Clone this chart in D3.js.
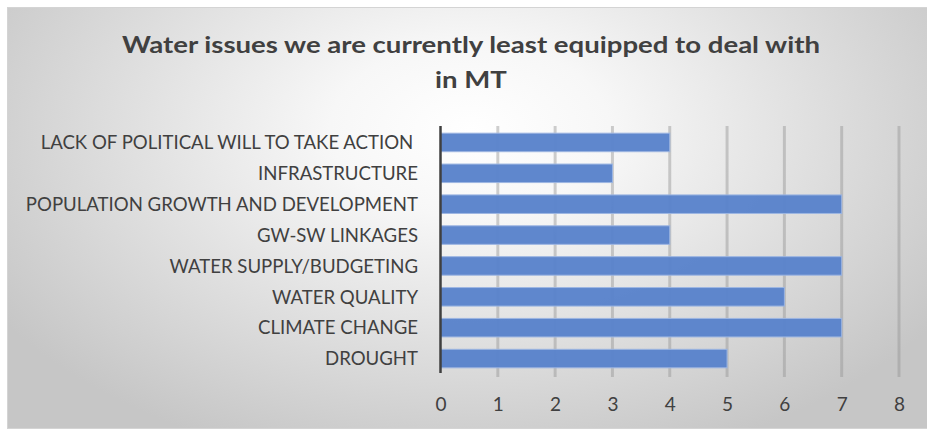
<!DOCTYPE html>
<html><head><meta charset="utf-8">
<script src="https://cdn.jsdelivr.net/npm/d3@7"></script>
<style>html,body{margin:0;padding:0;background:#fff;}svg{display:block;}</style>
</head><body>
<svg id="chart" width="927" height="431"></svg>
<script>
const categories = ["LACK OF POLITICAL WILL TO TAKE ACTION ", "INFRASTRUCTURE", "POPULATION GROWTH AND DEVELOPMENT", "GW-SW LINKAGES", "WATER SUPPLY/BUDGETING", "WATER QUALITY", "CLIMATE CHANGE", "DROUGHT"];
const values = [4, 3, 7, 4, 7, 6, 7, 5];
const tickValues = [0, 1, 2, 3, 4, 5, 6, 7, 8];
const titleLines = ["Water issues we are currently least equipped to deal with", "in MT"];

const svg = d3.select("#chart");
const defs = svg.append("defs");
const rg = defs.append("radialGradient").attr("id","bg").attr("gradientUnits","userSpaceOnUse")
  .attr("cx",470).attr("cy",130).attr("r",560).attr("gradientTransform","translate(470,130) scale(1,0.62) translate(-470,-130)");
rg.append("stop").attr("offset","0%").attr("stop-color","#ffffff");
rg.append("stop").attr("offset","25%").attr("stop-color","#f7f7f7");
rg.append("stop").attr("offset","100%").attr("stop-color","#c6c6c6");
const blur = defs.append("filter").attr("id","soft").attr("filterUnits","userSpaceOnUse")
  .attr("x",0).attr("y",0).attr("width",927).attr("height",431);
blur.append("feGaussianBlur").attr("stdDeviation","0.7");

svg.append("rect").attr("x",7.5).attr("y",7.5).attr("width",925).attr("height",421)
  .attr("fill","url(#bg)").attr("stroke","#d4d4d4").attr("stroke-width",1);

const x = d3.scaleLinear().domain([0,8]).range([440.5, 899]);
const y = d3.scaleBand().domain(categories).range([127, 374]).paddingInner(0.4).paddingOuter(0.2);

// gridlines
const grid = svg.append("g").attr("filter","url(#soft)");
grid.selectAll("line").data(tickValues.filter(d=>d>0)).join("line")
  .attr("x1",d=>x(d)).attr("x2",d=>x(d)).attr("y1",126).attr("y2",377)
  .attr("stroke","#959595").attr("stroke-opacity",0.45).attr("stroke-width",3);

// bars
svg.append("g").selectAll("rect").data(categories).join("rect")
  .attr("x", x(0)).attr("y", d=>y(d))
  .attr("width", (d,i)=>x(values[i])-x(0)).attr("height", y.bandwidth())
  .attr("fill","#5a83cb").attr("fill-opacity",0.97).attr("stroke","#9db6e2").attr("stroke-width",1);

// axis line
svg.append("line").attr("x1",x(0)).attr("x2",x(0)).attr("y1",126).attr("y2",373)
  .attr("stroke","#3f3f3f").attr("stroke-width",2.5);

const font = "Lato, 'Open Sans', sans-serif";
// category labels via axis
const yAxis = d3.axisLeft(y).tickSize(0).tickPadding(0);
const ya = svg.append("g").attr("transform","translate(418,0)").call(yAxis);
ya.select(".domain").remove();
ya.selectAll("text").attr("font-family",font).attr("font-size",18.6).attr("fill","#404040")
  .attr("dy","0.36em").style("white-space","pre");

// tick labels via axis
const xAxis = d3.axisBottom(x).tickValues(tickValues).tickSize(0).tickPadding(0).tickFormat(d3.format("d"));
const xa = svg.append("g").attr("transform","translate(0,397)").call(xAxis);
xa.select(".domain").remove();
xa.selectAll("text").attr("font-family",font).attr("font-size",19).attr("fill","#404040").attr("dy","0.75em");

// title
const tt = svg.append("g").selectAll("text").data(titleLines).join("text")
  .attr("x",471).attr("y",(d,i)=>52.5+i*35).attr("text-anchor","middle")
  .attr("font-family",font).attr("font-weight","bold").attr("font-size",23.5).attr("fill","#404040")
  .text(d=>d);
const w0 = tt.nodes()[0].getComputedTextLength();
const k = 698 / w0;
tt.each(function(){ const w = this.getComputedTextLength();
  d3.select(this).attr("textLength", w*k).attr("lengthAdjust","spacingAndGlyphs"); });
</script>
</body></html>
